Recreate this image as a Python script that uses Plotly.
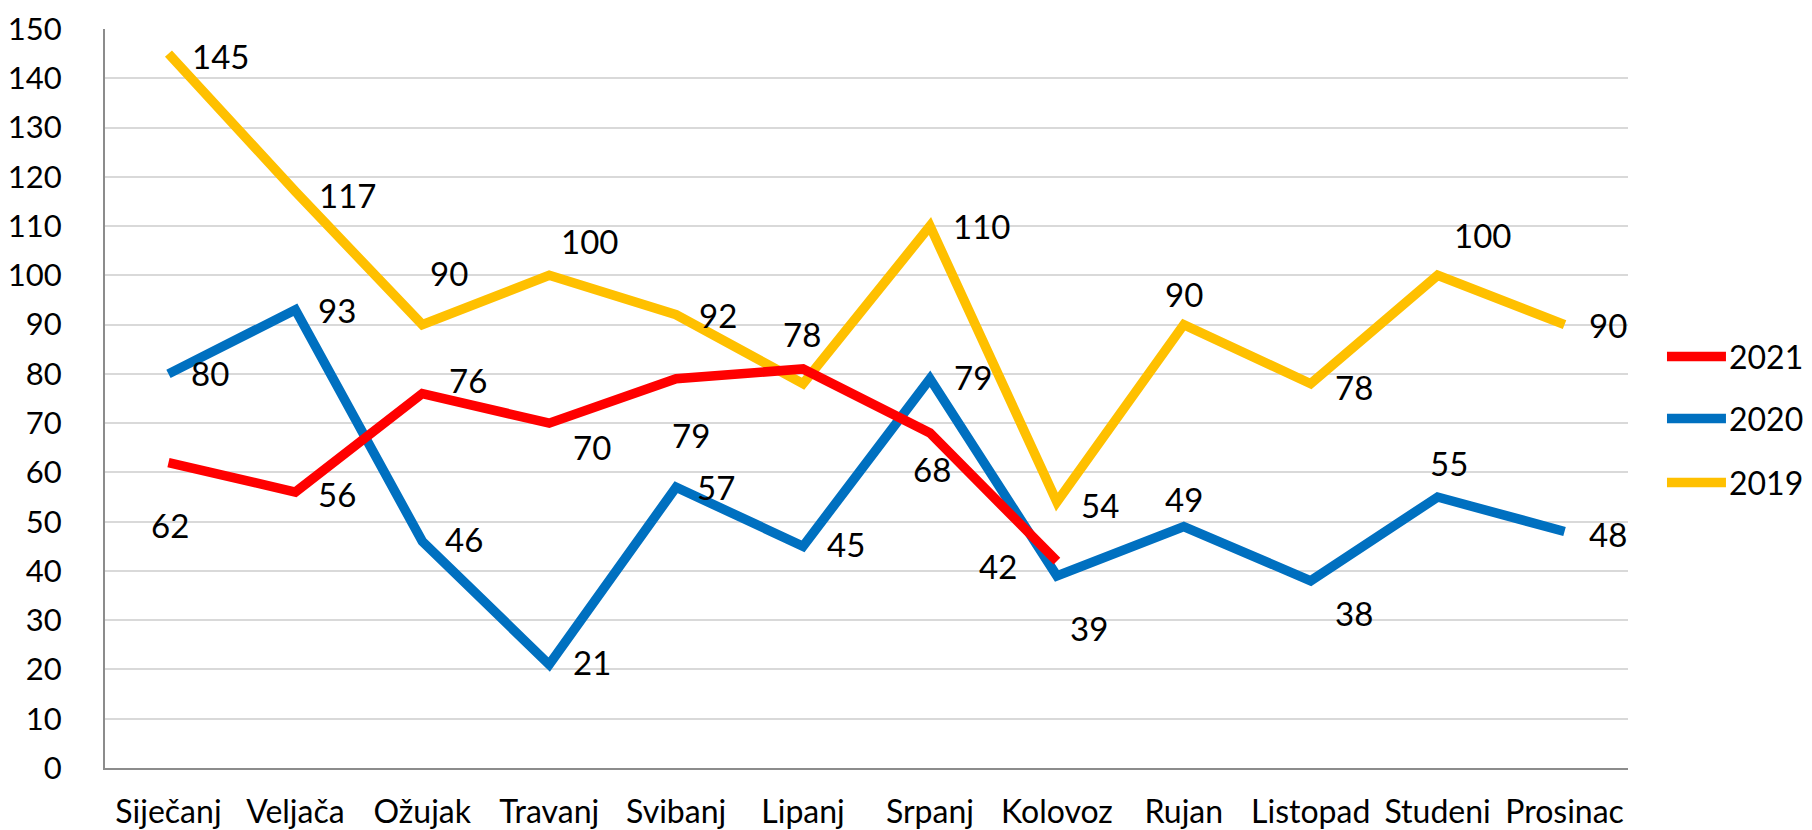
import plotly.graph_objects as go

months = ["Siječanj", "Veljača", "Ožujak", "Travanj", "Svibanj", "Lipanj",
          "Srpanj", "Kolovoz", "Rujan", "Listopad", "Studeni", "Prosinac"]
series_names = ["2021", "2020", "2019"]
v2021 = [62, 56, 76, 70, 79, 81, 68, 42]
v2020 = [80, 93, 46, 21, 57, 45, 79, 39, 49, 38, 55, 48]
v2019 = [145, 117, 90, 100, 92, 78, 110, 54, 90, 78, 100, 90]
y_ticks = list(range(0, 151, 10))

colors = ["#FF0000", "#0070C0", "#FFC000"]
values = [v2021, v2020, v2019]

# label offsets (dx, dy in screen px, label centre relative to point); None = no label
offsets = [
    [(2, 62), (42, 2), (46, -14), (43, 24), (15, 56), None, (2, 36), (-59, 5)],
    [(42, -1), (42, 0), (42, -2), (43, -3), (40, 0), (43, -2), (43, -2), (32, 52),
     (0, -28), (43, 32), (11, -34), (43, 2)],
    [(52, 2), (52, 3), (27, -52), (40, -34), (42, 0), (-1, -50), (52, 0), (43, 3),
     (0, -31), (43, 3), (45, -40), (43, 0)],
]

FONT = "Lato, 'Open Sans', sans-serif"
NUM = 33
# page body has an 8px margin; figure sized to fit the window
W, H = 1804, 822
ML, MR, MT, MB = 96.5, 184, 20.5, 62.3
PW, PH = W - ML - MR, H - MT - MB

fig = go.Figure()
annotations = []
for idx in [2, 1, 0]:
    vals = values[idx]
    fig.add_trace(go.Scatter(
        x=months[:len(vals)], y=vals, mode="lines", name=series_names[idx],
        line=dict(color=colors[idx], width=9.5), showlegend=False,
        hoverinfo="x+y+name"))
    for i, v in enumerate(vals):
        off = offsets[idx][i]
        if off is None:
            continue
        annotations.append(dict(
            x=months[i], y=v, xref="x", yref="y", text=str(v), showarrow=False,
            xanchor="center", yanchor="middle", xshift=off[0], yshift=-off[1],
            font=dict(family=FONT, size=NUM, color="black")))

# manual legend (positions in figure pixels)
leg_y = [348, 410, 474]
for k in range(3):
    yp = (H - leg_y[k] - MB) / PH
    fig.add_shape(type="line", xref="paper", yref="paper",
                  x0=(1659 - ML) / PW, x1=(1718 - ML) / PW, y0=yp, y1=yp,
                  line=dict(color=colors[k], width=9.5))
    annotations.append(dict(
        x=(1719 - ML) / PW, y=yp, xref="paper", yref="paper",
        text=series_names[k], showarrow=False, xanchor="left", yanchor="middle",
        font=dict(family=FONT, size=32, color="black")))

fig.update_layout(
    width=W, height=H,
    margin=dict(l=ML, r=MR, t=MT, b=MB, autoexpand=False),
    paper_bgcolor="white", plot_bgcolor="white",
    font=dict(family=FONT, size=NUM, color="black"),
    annotations=annotations,
    showlegend=False,
)
fig.update_xaxes(
    type="category", categoryorder="array", categoryarray=months,
    range=[-0.5, 11.5], showgrid=False, showline=True, linecolor="#8C8C8C",
    linewidth=2, ticks="", ticklabelstandoff=15, automargin=False,
    ticklabeloverflow="allow",
    tickfont=dict(family=FONT, size=32, color="black"))
fig.update_yaxes(
    range=[0, 150], tickvals=y_ticks, showgrid=True, gridcolor="#D9D9D9",
    gridwidth=1.5, zeroline=False, showline=True, linecolor="#8C8C8C",
    linewidth=2, ticks="", ticklabelstandoff=35, automargin=False,
    ticklabeloverflow="allow",
    tickfont=dict(family=FONT, size=31, color="black"))

fig.write_html("out.html")
